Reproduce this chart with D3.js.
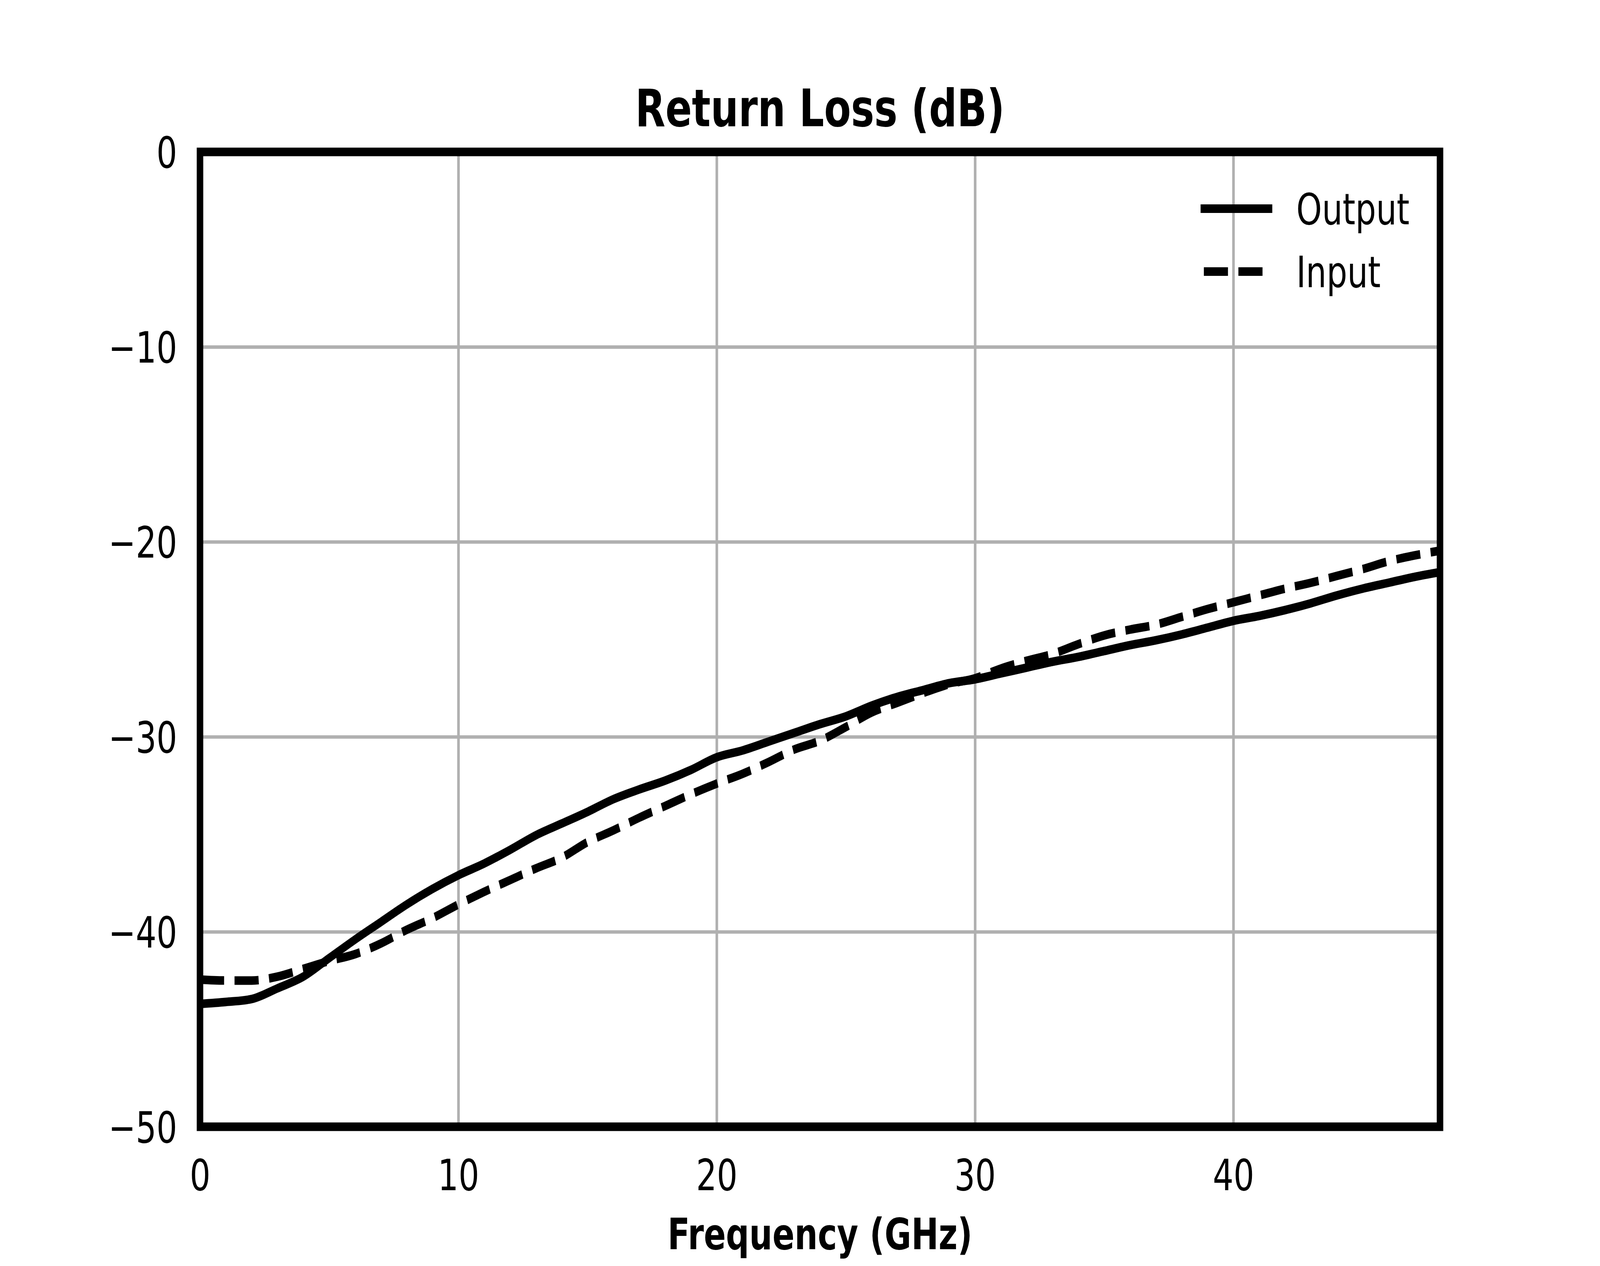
<!DOCTYPE html>
<html>
<head>
<meta charset="utf-8">
<script src="https://cdn.jsdelivr.net/npm/d3@7"></script>
<style>
html, body { margin: 0; padding: 0; background: #fff; overflow: hidden; }
#chart svg { display: block; width: 100vw; height: 100vh; font-family: "DejaVu Sans", sans-serif; }
</style>
</head>
<body>
<div id="chart"></div>
<script>
// values
var freqGHz = [0, 1, 2, 3, 4, 5, 6, 7, 8, 9, 10, 11, 12, 13, 14, 15, 16, 17, 18, 19, 20,
	21, 22, 23, 24, 25, 26, 27, 28, 29, 30, 31, 32, 33, 34, 35, 36, 37, 38, 39, 40,
	41, 42, 43, 44, 45, 46, 47, 48];
var outputDb = [-43.7, -43.6, -43.45, -42.9, -42.3, -41.35, -40.4, -39.5, -38.6, -37.8, -37.1,
	-36.5, -35.8, -35.05, -34.45, -33.85, -33.2, -32.7, -32.25, -31.7, -31.05,
	-30.7, -30.25, -29.8, -29.35, -28.95, -28.4, -27.95, -27.6, -27.25, -27.05,
	-26.75, -26.45, -26.15, -25.9, -25.6, -25.3, -25.05, -24.75, -24.4, -24.05,
	-23.8, -23.5, -23.15, -22.75, -22.4, -22.1, -21.8, -21.55];
var inputDb = [-42.45, -42.5, -42.5, -42.3, -41.9, -41.5, -41.15, -40.6, -39.9, -39.3, -38.6,
	-37.95, -37.35, -36.75, -36.2, -35.4, -34.8, -34.15, -33.55, -32.95, -32.4,
	-31.9, -31.3, -30.65, -30.2, -29.5, -28.75, -28.25, -27.75, -27.3, -27.0,
	-26.5, -26.1, -25.75, -25.25, -24.8, -24.5, -24.25, -23.85, -23.45, -23.1,
	-22.75, -22.4, -22.1, -21.75, -21.4, -21.0, -20.7, -20.45];
var seriesNames = ["Output", "Input"];
var xTicks = [0, 10, 20, 30, 40];
var yTicks = [0, -10, -20, -30, -40, -50];
var xDomain = [0, 48];
var yDomain = [-50, 0];

// layout in reference pixels; the svg is stretched to whatever window it gets
var W = 5400, H = 3240;
var margin = {left: 675, right: 540, top: 388.8, bottom: 356.4};
var width = W - margin.left - margin.right;
var height = H - margin.top - margin.bottom;
var lw = 22;

var x = d3.scaleLinear().domain(xDomain).range([0, width]);
var y = d3.scaleLinear().domain(yDomain).range([height, 0]);

var root = d3.select("#chart").append("svg")
	.attr("viewBox", "0 0 " + W + " " + H)
	.attr("preserveAspectRatio", "none");
root.append("rect").attr("width", W).attr("height", H).attr("fill", "#fff");

var svg = root.append("g")
	.attr("transform", "translate(" + margin.left + "," + margin.top + ")");

// grid
var gx = svg.append("g")
	.call(d3.axisBottom(x).tickValues(xTicks).tickSize(height).tickFormat(""));
var gy = svg.append("g")
	.call(d3.axisLeft(y).tickValues(yTicks).tickSize(-width).tickFormat(""));
[gx, gy].forEach(function(g) {
	g.select(".domain").remove();
	g.selectAll("line").attr("stroke", "#b0b0b0").attr("stroke-width", 8.8);
});

// curves
svg.append("clipPath").attr("id", "plotclip")
	.append("rect").attr("width", width).attr("height", height);

var line = d3.line()
	.x(function(d) { return x(d[0]); })
	.y(function(d) { return y(d[1]); })
	.curve(d3.curveMonotoneX);

var series = [
	{name: seriesNames[0], values: outputDb, dash: null, cap: "square"},
	{name: seriesNames[1], values: inputDb, dash: (3.7 * lw) + " " + (1.6 * lw), cap: "butt"}
];

var plot = svg.append("g").attr("clip-path", "url(#plotclip)");
series.forEach(function(s) {
	plot.append("path")
		.datum(freqGHz.map(function(f, i) { return [f, s.values[i]]; }))
		.attr("d", line)
		.attr("fill", "none")
		.attr("stroke", "#000")
		.attr("stroke-width", lw)
		.attr("stroke-linejoin", "round")
		.attr("stroke-linecap", s.cap)
		.attr("stroke-dasharray", s.dash);
});

// frame
svg.append("rect")
	.attr("width", width)
	.attr("height", height)
	.attr("fill", "none")
	.attr("stroke", "#000")
	.attr("stroke-width", lw);

// tick labels
var fmt = function(d) { return d < 0 ? "\u2212" + Math.abs(d) : String(d); };

var ay = svg.append("g")
	.call(d3.axisLeft(y).tickValues(yTicks).tickSize(0).tickPadding(77).tickFormat(fmt));
ay.select(".domain").remove();
ay.selectAll("text")
	.attr("dy", "0.3645em")
	.attr("font-size", 110)
	.attr("font-family", "DejaVu Sans")
	.attr("fill", "#000");

var ax = svg.append("g")
	.attr("transform", "translate(0," + height + ")")
	.call(d3.axisBottom(x).tickValues(xTicks).tickSize(0).tickFormat(fmt));
ax.select(".domain").remove();
ax.selectAll("text")
	.attr("y", 162.4)
	.attr("dy", 0)
	.attr("font-size", 110)
	.attr("font-family", "DejaVu Sans")
	.attr("fill", "#000");

// title and axis label
svg.append("text")
	.attr("x", width / 2)
	.attr("y", -66)
	.attr("text-anchor", "middle")
	.attr("font-size", 132)
	.attr("font-weight", "bold")
	.text("Return Loss (dB)");

svg.append("text")
	.attr("x", width / 2)
	.attr("y", height + 313)
	.attr("text-anchor", "middle")
	.attr("font-size", 110)
	.attr("font-weight", "bold")
	.text("Frequency (GHz)");

// legend
var legend = svg.append("g")
	.attr("transform", "translate(" + (4063 - margin.left) + "," + (534 - margin.top) + ")");
series.forEach(function(s, i) {
	var row = legend.append("g").attr("transform", "translate(0," + (i * 161) + ")");
	row.append("line")
		.attr("x1", 0).attr("x2", 220)
		.attr("y1", 0).attr("y2", 0)
		.attr("stroke", "#000")
		.attr("stroke-width", lw)
		.attr("stroke-linecap", s.cap)
		.attr("stroke-dasharray", s.dash);
	row.append("text")
		.attr("x", 312)
		.attr("y", 40)
		.attr("font-size", 110)
		.text(s.name);
});
</script>
</body>
</html>
